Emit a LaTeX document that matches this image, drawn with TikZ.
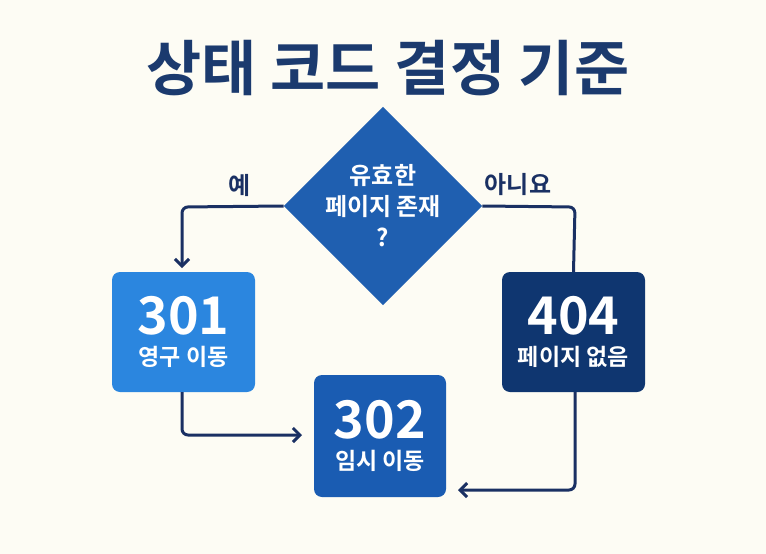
\documentclass[tikz,border=0pt]{standalone}
\usepackage{fontspec}
\setmainfont{Noto Sans CJK KR}
\newfontfamily\kb{Noto Sans CJK KR Bold}
\usetikzlibrary{shapes.geometric,arrows.meta}
\definecolor{bg}{HTML}{FDFCF4}
\definecolor{navy}{HTML}{1B3A6E}
\definecolor{ln}{HTML}{1A3063}
\definecolor{dia}{HTML}{1F5FB0}
\definecolor{cA}{HTML}{2B86DF}
\definecolor{cB}{HTML}{0F3670}
\definecolor{cC}{HTML}{1A5CB2}
\tikzset{
 box/.style={rounded corners=8pt,minimum width=143pt,minimum height=120pt,text=white,align=center,inner sep=0pt},
 conn/.style={draw=ln,line width=3pt,rounded corners=6pt},
 arr/.style={conn,-{Straight Barb[length=7pt,width=14pt,line width=3pt]}},
 lbl/.style={text=ln,font=\kb\fontsize{24}{28}\selectfont}
}
\begin{document}
\begin{tikzpicture}[x=1pt,y=-1pt]
\fill[bg] (0,0) rectangle (766,554);
\useasboundingbox (0,0) rectangle (766,554);
\node[text=navy,font=\kb\fontsize{60}{64}\selectfont] (title) at (388,68) {상태 코드 결정 기준};
\node[diamond,fill=dia,minimum width=196pt,minimum height=170pt,inner sep=0pt,text=white,align=center,font=\kb\fontsize{24}{31}\selectfont] (d) at (383,206) {유효한\\페이지 존재\\?};
\node[box,fill=cA] (a) at (183.5,332) {{\kb\fontsize{52}{54}\selectfont 301}\\[10pt]{\kb\fontsize{23}{26}\selectfont 영구 이동}};
\node[box,fill=cB] (b) at (573.5,332) {{\kb\fontsize{52}{54}\selectfont 404}\\[10pt]{\kb\fontsize{23}{26}\selectfont 페이지 없음}};
\node[box,fill=cC,minimum width=132pt,minimum height=122pt] (c) at (380,436) {{\kb\fontsize{52}{54}\selectfont 302}\\[10pt]{\kb\fontsize{23}{26}\selectfont 임시 이동}};
\coordinate (p1) at (182,207);
\coordinate (p2) at (575,207);
\draw[arr] (d.west) -- (p1) -- (182,268);
\draw[conn] (d.east) -- (p2) -- (b.north);
\draw[arr] (a.south -| 182,0) -- (182,435) -- (302,435);
\draw[arr] (b.south -| 575,0) -- (575,490) -- (458,490);
\node[lbl] (yes) at (240,185) {예};
\node[lbl] (no) at (518,185) {아니요};
\end{tikzpicture}
\end{document}
